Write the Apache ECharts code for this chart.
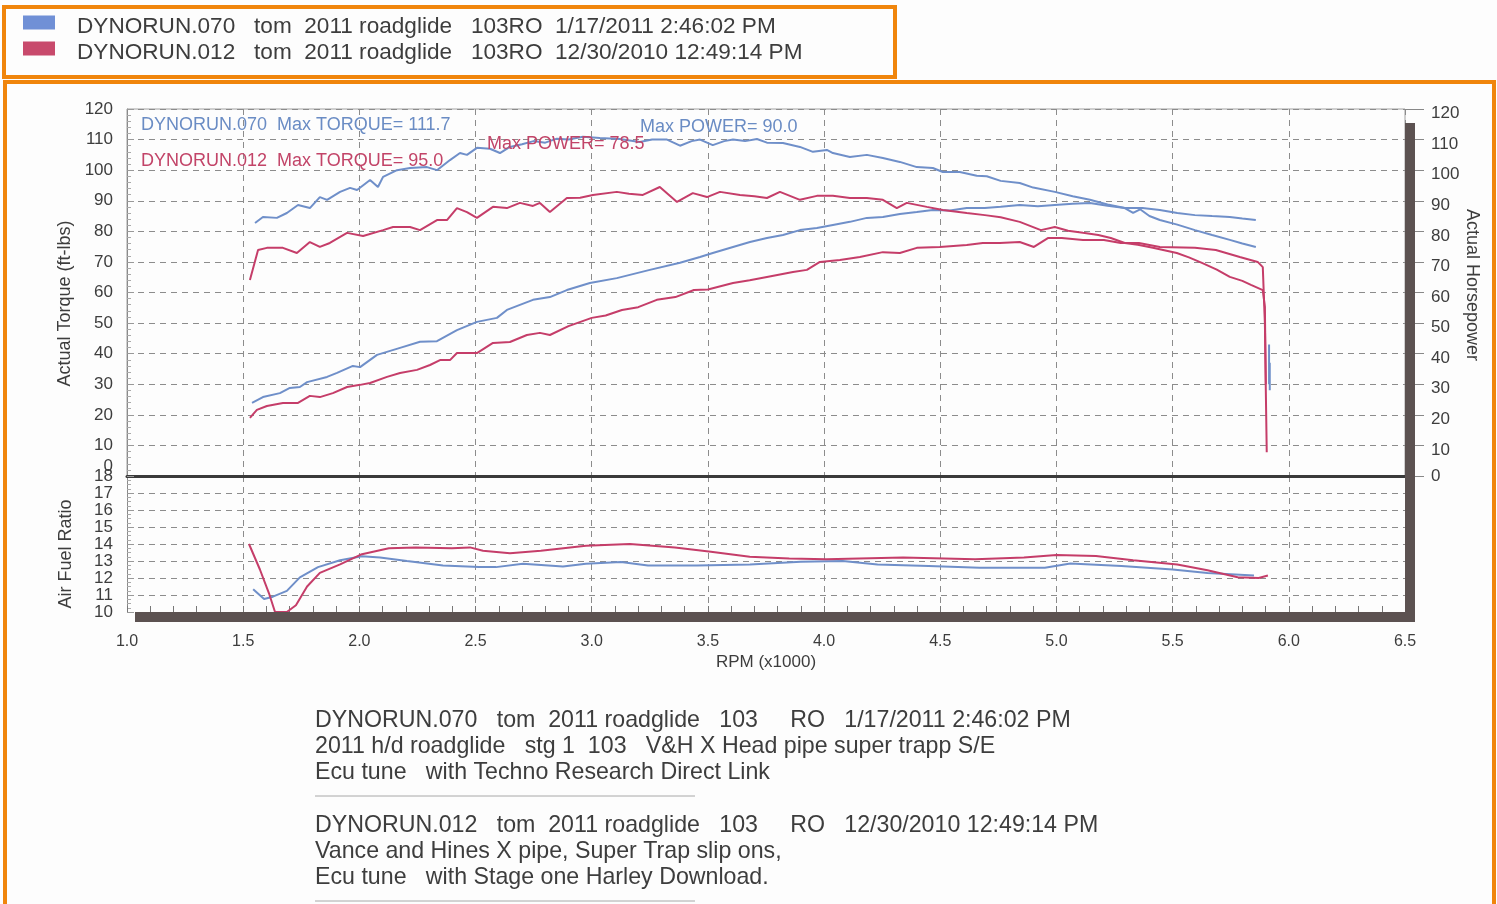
<!DOCTYPE html>
<html>
<head>
<meta charset="utf-8">
<title>Dyno run comparison</title>
<script src="https://cdn.jsdelivr.net/npm/echarts@6/dist/echarts.min.js"></script>
<style>
  html, body { margin: 0; padding: 0; background: #fdfdfd; }
  #chart { width: 1497px; height: 904px; }
</style>
</head>
<body>
<div id="chart"></div>
<script>
// run names (legend)
const run070 = "DYNORUN.070   tom  2011 roadglide   103RO  1/17/2011 2:46:02 PM";
const run012 = "DYNORUN.012   tom  2011 roadglide   103RO  12/30/2010 12:49:14 PM";

// x axis ticks, RPM x1000
const rpmTicks = [1.0, 1.5, 2.0, 2.5, 3.0, 3.5, 4.0, 4.5, 5.0, 5.5, 6.0, 6.5];

// DYNORUN.070 torque (ft-lbs)
const blueTorqueRpm = [1.551, 1.585, 1.645, 1.688, 1.736, 1.787, 1.830, 1.861, 1.917, 1.960, 1.990, 2.046, 2.080, 2.102, 2.162, 2.218, 2.291, 2.334, 2.390, 2.433, 2.463, 2.506, 2.562, 2.605, 2.648, 2.70, 2.75, 2.80, 2.85, 2.90, 2.962, 3.035, 3.12, 3.207, 3.26, 3.324, 3.380, 3.43, 3.466, 3.521, 3.57, 3.608, 3.66, 3.711, 3.754, 3.823, 3.896, 3.952, 4.012, 4.038, 4.111, 4.184, 4.253, 4.326, 4.399, 4.468, 4.511, 4.584, 4.657, 4.70, 4.76, 4.842, 4.90, 4.993, 5.07, 5.144, 5.22, 5.294, 5.33, 5.36, 5.40, 5.445, 5.52, 5.596, 5.67, 5.746, 5.80, 5.858];
const blueTorque = [82.7, 84.7, 84.4, 86.0, 88.6, 87.6, 91.2, 90.3, 92.9, 94.2, 93.5, 96.8, 94.5, 97.8, 100.0, 100.7, 101.0, 100.0, 103.3, 105.6, 105.0, 107.3, 107.0, 105.6, 107.6, 108.5, 109.5, 109.0, 110.3, 110.0, 110.9, 110.5, 110.2, 109.2, 110.0, 110.0, 108.0, 109.5, 110.0, 108.2, 109.5, 110.0, 109.5, 110.2, 109.0, 108.9, 107.6, 106.0, 106.6, 105.6, 104.3, 105.0, 104.0, 102.7, 101.0, 100.7, 99.4, 99.4, 98.2, 98.0, 96.5, 95.8, 94.3, 92.9, 91.5, 90.3, 88.8, 87.6, 86.0, 87.2, 85.0, 83.7, 82.2, 80.4, 78.8, 77.2, 76.0, 74.9];

// DYNORUN.070 power (hp)
const bluePowerRpm = [1.538, 1.585, 1.658, 1.701, 1.744, 1.775, 1.861, 1.904, 1.972, 2.003, 2.076, 2.175, 2.261, 2.334, 2.420, 2.506, 2.592, 2.635, 2.747, 2.820, 2.893, 2.992, 3.108, 3.250, 3.380, 3.466, 3.521, 3.608, 3.681, 3.754, 3.823, 3.896, 3.969, 4.038, 4.111, 4.184, 4.253, 4.326, 4.399, 4.468, 4.541, 4.614, 4.692, 4.76, 4.842, 4.92, 4.993, 5.07, 5.144, 5.22, 5.294, 5.37, 5.445, 5.52, 5.596, 5.67, 5.746, 5.80, 5.858];
const bluePower = [23.9, 25.8, 27.1, 28.8, 29.1, 30.7, 32.4, 33.7, 36.0, 35.6, 39.6, 41.9, 43.9, 44.1, 47.7, 50.4, 51.7, 54.3, 57.6, 58.5, 60.8, 63.1, 64.7, 67.4, 69.7, 71.6, 72.9, 74.9, 76.5, 77.8, 78.8, 80.4, 81.1, 82.1, 83.1, 84.4, 84.7, 85.7, 86.3, 87.0, 86.8, 87.6, 87.6, 88.0, 88.6, 88.2, 88.6, 89.0, 89.3, 88.4, 87.6, 87.6, 87.0, 86.0, 85.3, 85.0, 84.7, 84.2, 83.7];

// DYNORUN.070 short trace at end of run
const blueTailRpm = [5.915, 5.915, 5.918, 5.918];
const blueTail = [43, 30, 37, 28];

// DYNORUN.012 torque (ft-lbs)
const redTorqueRpm = [1.529, 1.564, 1.602, 1.671, 1.731, 1.787, 1.830, 1.873, 1.947, 2.016, 2.102, 2.145, 2.218, 2.261, 2.334, 2.377, 2.420, 2.463, 2.506, 2.575, 2.635, 2.691, 2.747, 2.777, 2.820, 2.893, 2.95, 3.005, 3.108, 3.16, 3.220, 3.293, 3.367, 3.435, 3.496, 3.552, 3.638, 3.70, 3.754, 3.810, 3.896, 3.969, 4.038, 4.111, 4.184, 4.253, 4.313, 4.356, 4.442, 4.511, 4.614, 4.692, 4.76, 4.842, 4.933, 4.993, 5.05, 5.114, 5.18, 5.234, 5.294, 5.35, 5.415, 5.518, 5.57, 5.626, 5.69, 5.746, 5.80, 5.837, 5.888, 5.897, 5.901, 5.905];
const redTorque = [64.1, 73.9, 74.6, 74.6, 72.9, 76.5, 74.9, 76.2, 79.5, 78.5, 80.4, 81.4, 81.4, 80.4, 83.7, 83.7, 87.6, 86.3, 84.4, 88.0, 87.6, 89.3, 88.3, 89.3, 86.3, 90.9, 91.0, 91.9, 92.9, 92.3, 91.9, 94.5, 89.6, 92.5, 91.2, 92.9, 91.9, 91.5, 90.9, 92.9, 90.3, 91.6, 91.6, 90.9, 90.9, 90.3, 87.6, 89.3, 88.0, 87.0, 86.0, 85.3, 84.6, 83.1, 80.4, 81.4, 80.2, 79.5, 78.8, 77.8, 76.2, 75.6, 74.6, 72.9, 71.5, 69.7, 67.5, 65.1, 63.8, 62.5, 60.8, 55.3, 28.1, 7.8];

// DYNORUN.012 power (hp)
const redPowerRpm = [1.529, 1.559, 1.602, 1.671, 1.736, 1.787, 1.830, 1.886, 1.947, 2.003, 2.046, 2.119, 2.175, 2.248, 2.304, 2.347, 2.390, 2.420, 2.506, 2.575, 2.648, 2.721, 2.777, 2.820, 2.90, 3.00, 3.06, 3.13, 3.20, 3.28, 3.36, 3.44, 3.50, 3.608, 3.68, 3.754, 3.866, 3.926, 3.982, 4.068, 4.154, 4.253, 4.326, 4.399, 4.498, 4.614, 4.683, 4.756, 4.842, 4.903, 4.963, 5.023, 5.114, 5.204, 5.277, 5.355, 5.445, 5.596, 5.686, 5.789, 5.866, 5.888, 5.897, 5.901];
const redPower = [19.0, 21.6, 22.9, 23.9, 23.9, 26.2, 25.8, 27.1, 29.1, 29.8, 30.4, 32.4, 33.7, 34.7, 36.3, 37.9, 37.9, 40.2, 40.2, 43.5, 43.8, 46.1, 46.8, 46.1, 49.0, 51.7, 52.5, 54.3, 55.2, 57.6, 58.5, 60.8, 61.0, 63.1, 64.0, 65.1, 66.7, 67.4, 70.0, 70.6, 71.6, 73.2, 72.9, 74.6, 74.9, 75.5, 76.2, 76.2, 76.5, 74.9, 77.8, 77.8, 77.2, 77.2, 76.2, 76.2, 74.9, 74.6, 73.9, 71.6, 70.0, 68.3, 50.0, 30.0];

// air fuel ratio
const blueAfrRpm = [1.543, 1.590, 1.628, 1.688, 1.744, 1.822, 1.917, 2.011, 2.089, 2.205, 2.360, 2.515, 2.588, 2.704, 2.876, 2.975, 3.126, 3.242, 3.453, 3.681, 3.90, 4.08, 4.23, 4.45, 4.67, 4.95, 5.06, 5.28, 5.50, 5.65, 5.85];
const blueAfr = [11.34, 10.76, 10.9, 11.24, 12.04, 12.64, 13.04, 13.28, 13.2, 13.0, 12.74, 12.64, 12.64, 12.84, 12.68, 12.84, 12.94, 12.74, 12.74, 12.8, 12.95, 13.0, 12.8, 12.7, 12.6, 12.6, 12.85, 12.7, 12.5, 12.3, 12.15];
const redAfrRpm = [1.525, 1.572, 1.611, 1.637, 1.688, 1.727, 1.775, 1.830, 1.917, 2.011, 2.127, 2.243, 2.398, 2.476, 2.532, 2.648, 2.781, 2.975, 3.164, 3.358, 3.513, 3.68, 3.85, 4.01, 4.34, 4.65, 4.86, 5.0, 5.17, 5.33, 5.52, 5.65, 5.78, 5.87, 5.91];
const redAfr = [14.0, 12.5, 11.1, 10.0, 10.0, 10.4, 11.5, 12.3, 12.8, 13.4, 13.75, 13.8, 13.75, 13.8, 13.6, 13.45, 13.6, 13.9, 14.0, 13.8, 13.55, 13.25, 13.15, 13.1, 13.2, 13.1, 13.2, 13.35, 13.3, 13.05, 12.8, 12.45, 12.05, 12.0, 12.15];

// notes printed under the chart
const notes070 = [
  "DYNORUN.070   tom  2011 roadglide   103     RO   1/17/2011 2:46:02 PM",
  "2011 h/d roadglide   stg 1  103   V&H X Head pipe super trapp S/E",
  "Ecu tune   with Techno Research Direct Link"
];
const notes012 = [
  "DYNORUN.012   tom  2011 roadglide   103     RO   12/30/2010 12:49:14 PM",
  "Vance and Hines X pipe, Super Trap slip ons,",
  "Ecu tune   with Stage one Harley Download."
];

const BLUE = "#6f8fc9";
const RED = "#c53d69";
const FONT = "'Liberation Sans', Arial, sans-serif";
const LABEL = "#3d3d3d";
// legend swatch sits in the upper part of a taller icon box
const SWATCH = "path://M0,0L32,0L32,14L0,14ZM0,22L0.01,22L0,22Z";

function pairs(xs, ys) {
  return xs.map((x, i) => [x, ys[i]]);
}

const chart = echarts.init(document.getElementById("chart"));

const dashed = { show: true, lineStyle: { color: "#8c8c8c", type: [6, 5], width: 1 } };

function lineSeries(name, color, x, y, xi, yi) {
  return {
    name: name,
    type: "line",
    xAxisIndex: xi,
    yAxisIndex: yi,
    data: pairs(x, y),
    showSymbol: false,
    symbol: "none",
    lineStyle: { color: color, width: 2 },
    itemStyle: { color: color },
    animation: false
  };
}

function noteTexts(lines, top) {
  return lines.map((t, i) => ({
    type: "text",
    left: 315,
    top: top + i * 26,
    style: { text: t, font: "23.2px " + FONT, fill: LABEL }
  }));
}

const option = {
  backgroundColor: "#fdfdfd",
  animation: false,
  textStyle: { fontFamily: FONT },
  legend: {
    data: [
      { name: run070, icon: SWATCH, itemStyle: { color: "#7090d6" } },
      { name: run012, icon: SWATCH, itemStyle: { color: "#c84a6c" } }
    ],
    orient: "vertical",
    left: 23,
    top: 15,
    padding: 0,
    itemWidth: 32,
    itemHeight: 22,
    itemGap: 3,
    selectedMode: false,
    textStyle: { fontSize: 22.6, color: LABEL, padding: [0, 0, 0, 17] }
  },
  grid: [
    { left: 127, top: 109, width: 1278, height: 367, show: true, borderColor: "#a0a0a0", borderWidth: 1, backgroundColor: "transparent" },
    { left: 127, top: 476, width: 1278, height: 136 }
  ],
  xAxis: [
    {
      type: "value", gridIndex: 0, min: rpmTicks[0], max: rpmTicks[rpmTicks.length - 1], interval: 0.5,
      axisLabel: { show: false }, axisTick: { show: false },
      axisLine: { onZero: false, lineStyle: { color: "#3a3a3a", width: 3 } },
      splitLine: dashed
    },
    {
      type: "value", gridIndex: 1, min: rpmTicks[0], max: rpmTicks[rpmTicks.length - 1], interval: 0.5,
      name: "RPM (x1000)", nameLocation: "middle", nameGap: 42,
      nameTextStyle: { fontSize: 17, color: LABEL },
      axisLabel: { margin: 22, fontSize: 16, color: LABEL, showMinLabel: true, showMaxLabel: true, formatter: v => v.toFixed(1) },
      axisTick: { inside: true, length: 6, lineStyle: { color: "#777" } },
      minorTick: { show: true, splitNumber: 5, length: 6, lineStyle: { color: "#777" } },
      axisLine: { onZero: false, show: false },
      splitLine: dashed
    }
  ],
  yAxis: [
    {
      type: "value", gridIndex: 0, position: "left", min: 0, max: 120, interval: 10,
      name: "Actual Torque (ft-lbs)", nameLocation: "middle", nameGap: 52, nameRotate: 90,
      nameTextStyle: { fontSize: 18, color: LABEL, padding: [0, 22, 0, 0] },
      axisLabel: {
        margin: 14, fontSize: 17, color: LABEL, showMinLabel: true, showMaxLabel: true, hideOverlap: false,
        formatter: v => (v === 0 ? "{z|0}" : String(v)),
        rich: { z: { fontSize: 17, color: LABEL, padding: [0, 0, 20, 0] } }
      },
      axisLine: { show: true, lineStyle: { color: "#8a8a8a" } },
      axisTick: { show: true, inside: true, length: 7, lineStyle: { color: "#999" } },
      minorTick: { show: true, splitNumber: 5, length: 4, lineStyle: { color: "#aaa" } },
      splitLine: dashed
    },
    {
      type: "value", gridIndex: 0, position: "right", min: 0, max: 120, interval: 10,
      axisLabel: {
        margin: 26, fontSize: 17, color: LABEL, showMinLabel: true, showMaxLabel: true, hideOverlap: false,
        formatter: v => (v === 0 ? "{z|0}" : "{n|" + v + "}"),
        rich: {
          z: { fontSize: 17, color: LABEL },
          n: { fontSize: 17, color: LABEL, padding: [9, 0, 0, 0] }
        }
      },
      axisLine: { show: false },
      axisTick: { show: true, length: 19, lineStyle: { color: "#888" } },
      splitLine: { show: false }
    },
    {
      type: "value", gridIndex: 1, position: "left", min: 10, max: 18, interval: 1,
      name: "Air Fuel Ratio", nameLocation: "middle", nameGap: 52, nameRotate: 90,
      nameTextStyle: { fontSize: 18, color: LABEL, padding: [0, 20, 0, 0] },
      axisLabel: { margin: 14, fontSize: 17, color: LABEL, showMinLabel: true, showMaxLabel: true, hideOverlap: false },
      axisLine: { show: true, lineStyle: { color: "#8a8a8a" } },
      axisTick: { show: true, inside: true, length: 7, lineStyle: { color: "#999" } },
      minorTick: { show: true, splitNumber: 4, length: 4, lineStyle: { color: "#aaa" } },
      splitLine: dashed
    }
  ],
  series: [
    lineSeries(run070, BLUE, blueTorqueRpm, blueTorque, 0, 0),
    lineSeries(run070, BLUE, bluePowerRpm, bluePower, 0, 1),
    lineSeries(run070, BLUE, blueTailRpm, blueTail, 0, 1),
    lineSeries(run012, RED, redTorqueRpm, redTorque, 0, 0),
    lineSeries(run012, RED, redPowerRpm, redPower, 0, 1),
    lineSeries(run070, BLUE, blueAfrRpm, blueAfr, 1, 2),
    lineSeries(run012, RED, redAfrRpm, redAfr, 1, 2)
  ],
  graphic: [
    // frame bars
    { type: "rect", shape: { x: 1405, y: 123, width: 10, height: 499 }, style: { fill: "#5c5251" }, z: 10 },
    { type: "rect", shape: { x: 135, y: 612, width: 1280, height: 10 }, style: { fill: "#5c5251" }, z: 10 },
    // orange boxes
    { type: "rect", shape: { x: 4, y: 7, width: 891, height: 70 }, style: { fill: "none", stroke: "#f0850c", lineWidth: 4 } },
    { type: "rect", shape: { x: 5, y: 82, width: 1489, height: 840 }, style: { fill: "none", stroke: "#f0850c", lineWidth: 4 } },
    // right axis title
    {
      type: "text", x: 1472, y: 285, rotation: -Math.PI / 2,
      style: { text: "Actual Horsepower", font: "18px " + FONT, fill: LABEL, align: "center", verticalAlign: "middle" }
    },
    // max annotations
    { type: "text", left: 141, top: 116, style: { text: "DYNORUN.070  Max TORQUE= 111.7", font: "18px " + FONT, fill: "#6a8cc4" }, z: 20 },
    { type: "text", left: 141, top: 152, style: { text: "DYNORUN.012  Max TORQUE= 95.0", font: "18px " + FONT, fill: "#c24468" }, z: 20 },
    { type: "text", left: 640, top: 118, style: { text: "Max POWER= 90.0", font: "18px " + FONT, fill: "#6a8cc4" }, z: 20 },
    { type: "text", left: 487, top: 135, style: { text: "Max POWER= 78.5", font: "18px " + FONT, fill: "#c24468" }, z: 20 },
    // notes
    ...noteTexts(notes070, 709),
    { type: "line", shape: { x1: 315, y1: 796, x2: 695, y2: 796 }, style: { stroke: "#a8a8a8", lineWidth: 1 } },
    ...noteTexts(notes012, 814),
    { type: "line", shape: { x1: 315, y1: 901, x2: 695, y2: 901 }, style: { stroke: "#a8a8a8", lineWidth: 1 } }
  ]
};

chart.setOption(option);
</script>
</body>
</html>
